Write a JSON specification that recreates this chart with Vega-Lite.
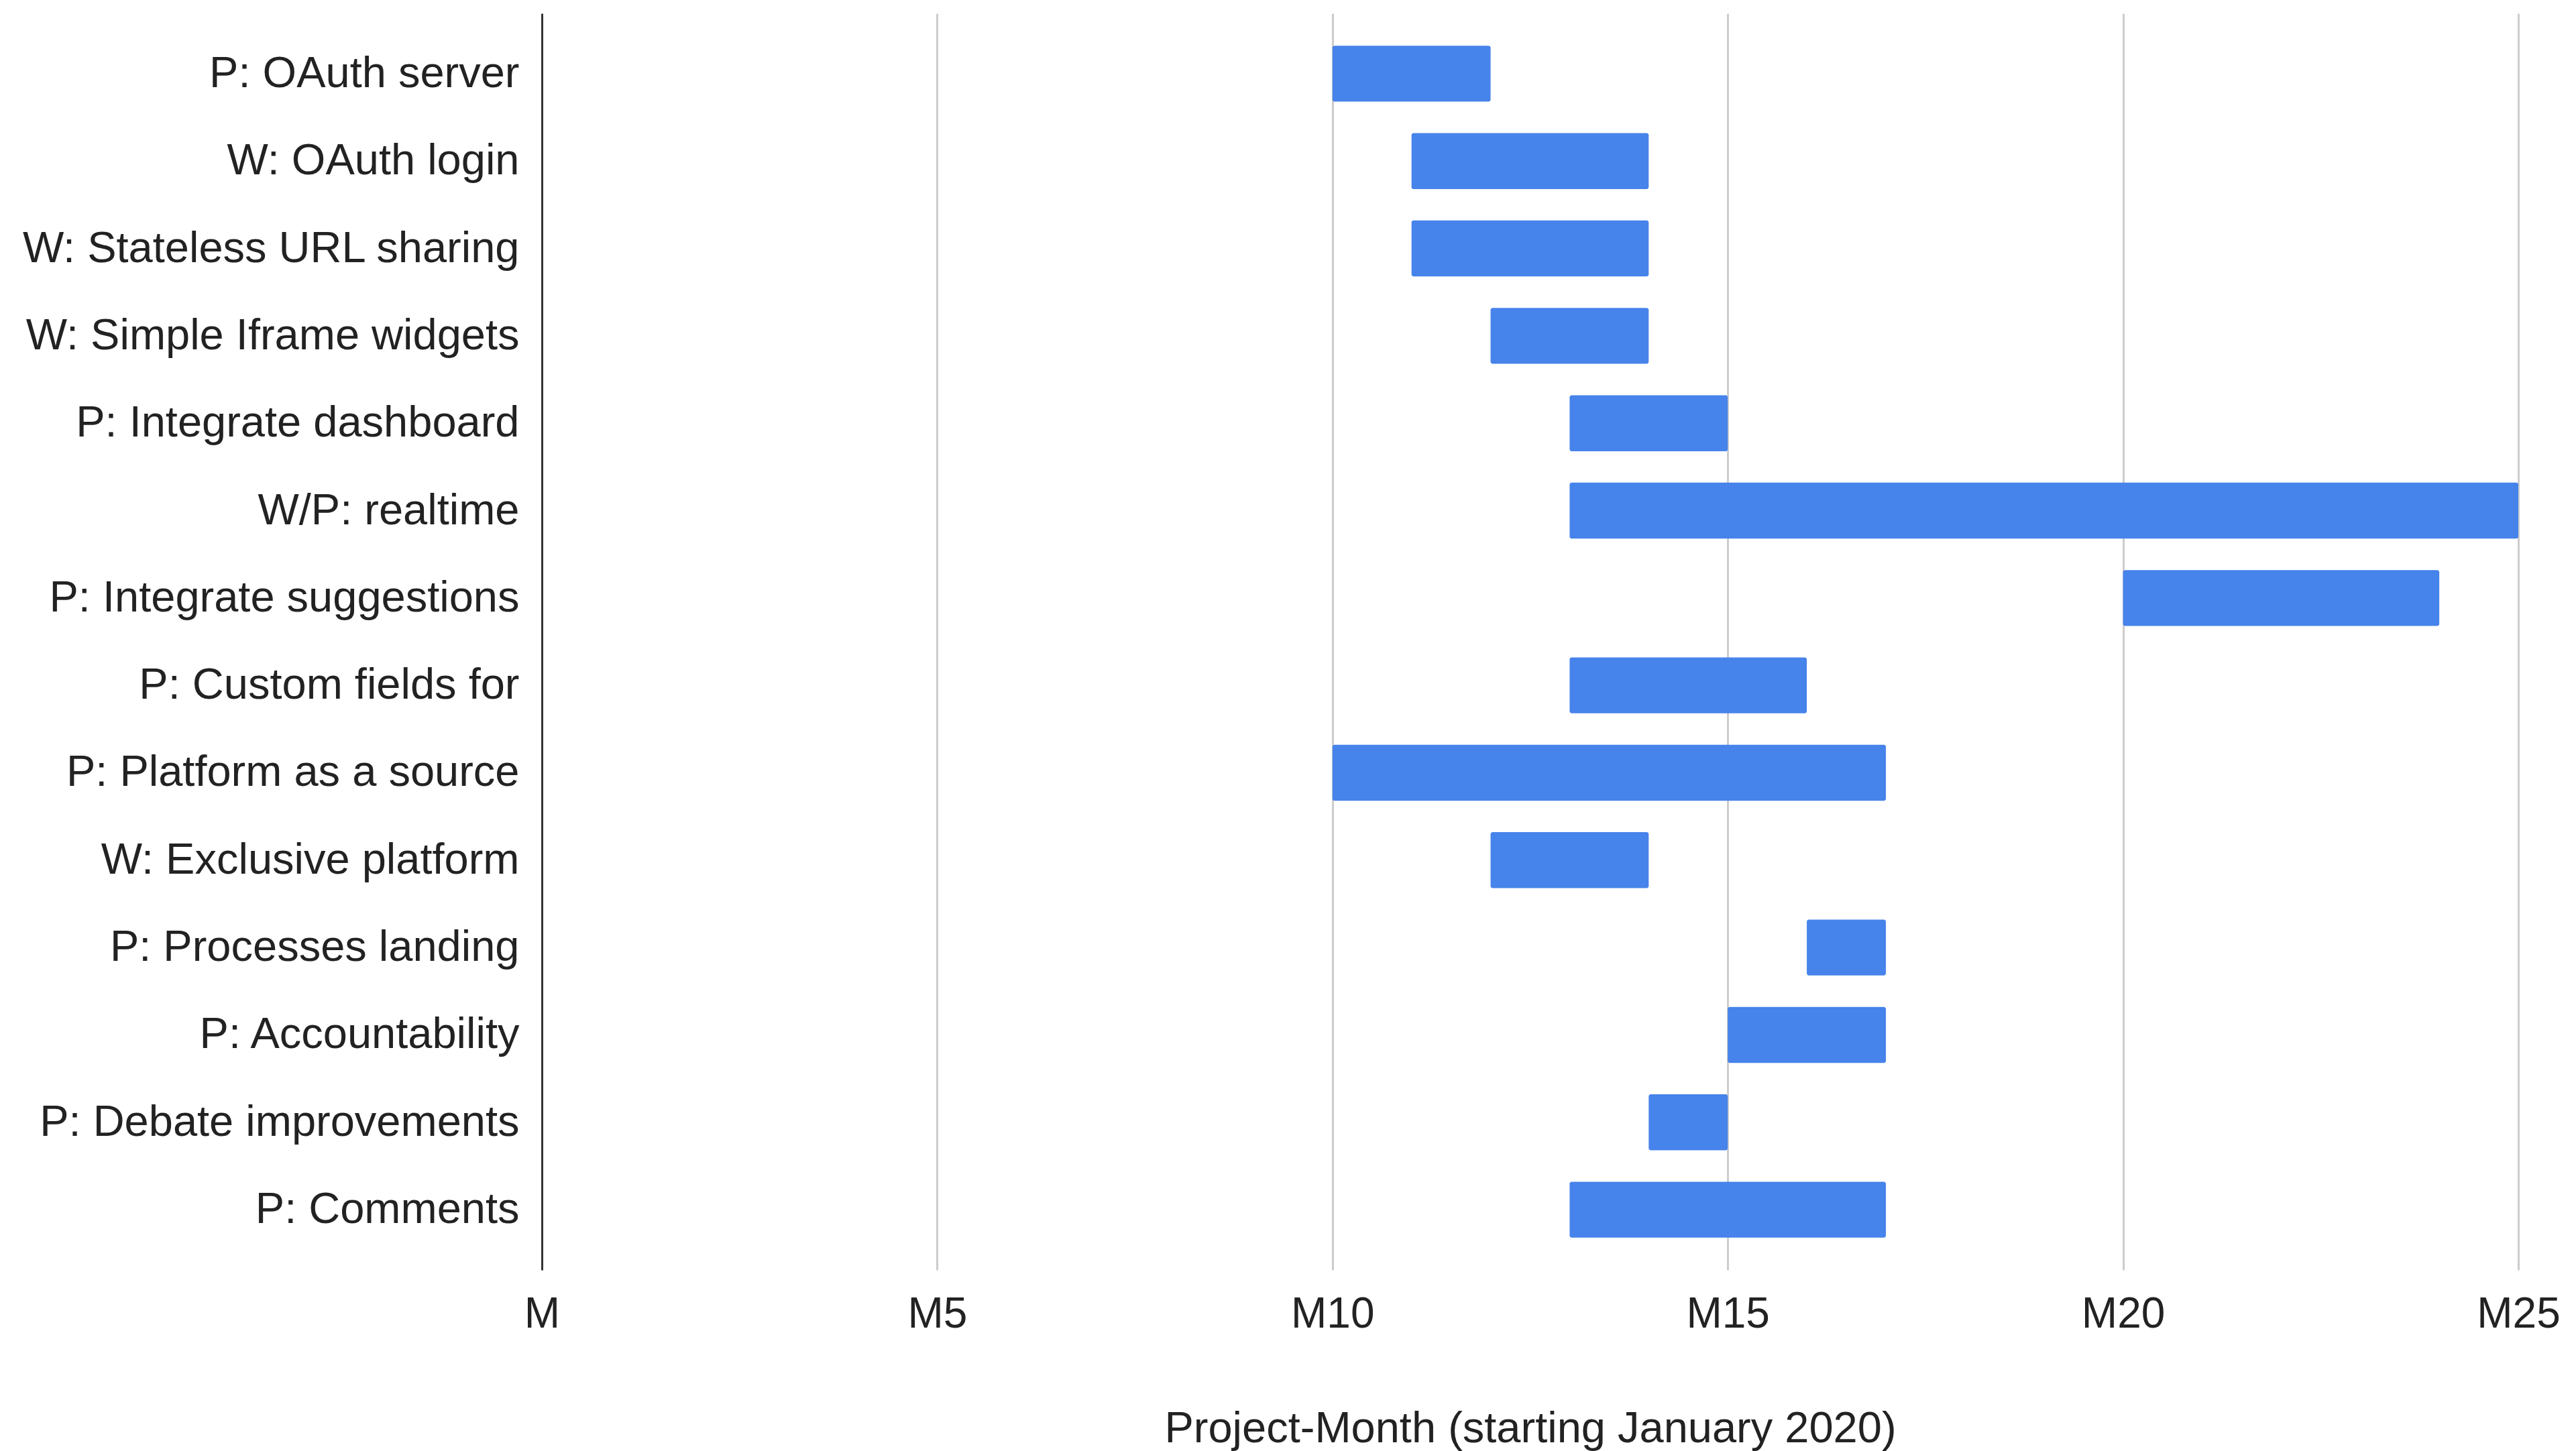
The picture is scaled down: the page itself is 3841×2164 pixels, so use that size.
{
  "$schema": "https://vega.github.io/schema/vega-lite/v6.json",
  "width": 2947,
  "height": 1874,
  "autosize": {"type": "none"},
  "padding": {"left": 808, "top": 20, "right": 86, "bottom": 270},
  "background": "#ffffff",
  "config": {
    "view": {"stroke": null},
    "font": "Liberation Sans"
  },
  "data": {
    "values": [
      {"task": "P: OAuth server", "start": 10, "end": 12},
      {"task": "W: OAuth login", "start": 11, "end": 14},
      {"task": "W: Stateless URL sharing", "start": 11, "end": 14},
      {"task": "W: Simple Iframe widgets", "start": 12, "end": 14},
      {"task": "P: Integrate dashboard", "start": 13, "end": 15},
      {"task": "W/P: realtime", "start": 13, "end": 25},
      {"task": "P: Integrate suggestions", "start": 20, "end": 24},
      {"task": "P: Custom fields for", "start": 13, "end": 16},
      {"task": "P: Platform as a source", "start": 10, "end": 17},
      {"task": "W: Exclusive platform", "start": 12, "end": 14},
      {"task": "P: Processes landing", "start": 16, "end": 17},
      {"task": "P: Accountability", "start": 15, "end": 17},
      {"task": "P: Debate improvements", "start": 14, "end": 15},
      {"task": "P: Comments", "start": 13, "end": 17}
    ]
  },
  "mark": {"type": "bar", "color": "#4683ea", "cornerRadiusEnd": 3},
  "encoding": {
    "y": {
      "field": "task",
      "type": "nominal",
      "sort": null,
      "scale": {"paddingInner": 0.36, "paddingOuter": 0.37},
      "axis": {
        "title": null,
        "ticks": false,
        "grid": false,
        "domain": true,
        "domainColor": "#333333",
        "domainWidth": 3,
        "labelFontSize": 65,
        "labelColor": "#222222",
        "labelPadding": 34,
        "labelLimit": 2000
      }
    },
    "x": {
      "field": "start",
      "type": "quantitative",
      "scale": {"domain": [0, 25], "nice": false, "zero": true},
      "axis": {
        "values": [0, 5, 10, 15, 20, 25],
        "labelExpr": "datum.value === 0 ? 'M' : 'M' + datum.value",
        "title": "Project-Month (starting January 2020)",
        "titleFontSize": 65,
        "titleFontWeight": "normal",
        "titleColor": "#222222",
        "titlePadding": 107,
        "domain": false,
        "ticks": false,
        "grid": true,
        "gridColor": "#cccccc",
        "gridWidth": 3,
        "labelFontSize": 64,
        "labelColor": "#222222",
        "labelPadding": 34,
        "labelFlush": false
      }
    },
    "x2": {"field": "end"}
  }
}
